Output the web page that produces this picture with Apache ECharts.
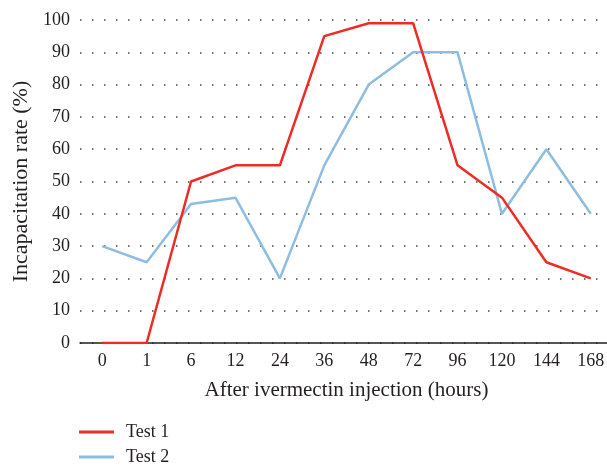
<!DOCTYPE html>
<html>
<head>
<meta charset="utf-8">
<script src="https://cdn.jsdelivr.net/npm/echarts@6/dist/echarts.min.js"></script>
<style>
  html, body { margin: 0; padding: 0; background: #fff; }
  #chart { width: 607px; height: 466px; }
</style>
</head>
<body>
<div id="chart"></div>
<script>
const hours = ['0', '1', '6', '12', '24', '36', '48', '72', '96', '120', '144', '168'];
const test1 = [0, 0, 50, 55, 55, 95, 99, 99, 55, 45, 25, 20];
const test2 = [30, 25, 43, 45, 20, 55, 80, 90, 90, 40, 60, 40];

const font = '"Liberation Serif", "DejaVu Serif", serif';
const myChart = echarts.init(document.getElementById('chart'));
const option = {
  animation: false,
  textStyle: {fontFamily: font},
  grid: {left: 80, top: 20, height: 323, width: 533, outerBoundsMode: 'none', containLabel: false},
  legend: {
    orient: 'vertical',
    left: 79,
    top: 423,
    padding: 0,
    itemWidth: 35,
    itemHeight: 3,
    itemGap: 7,
    textStyle: {fontFamily: font, fontSize: 18, lineHeight: 18, color: '#231f20', padding: [0, 0, 0, 7]},
    data: [
      {name: 'Test 1', icon: 'rect'},
      {name: 'Test 2', icon: 'rect'}
    ]
  },
  xAxis: {
    type: 'category',
    data: hours,
    name: 'After ivermectin injection (hours)',
    nameLocation: 'middle',
    nameGap: 37,
    nameTextStyle: {fontFamily: font, fontSize: 21, color: '#231f20'},
    axisLine: {lineStyle: {color: '#231f20', width: 1.5}},
    axisTick: {show: false},
    axisLabel: {fontFamily: font, fontSize: 18, color: '#231f20', margin: 9}
  },
  yAxis: {
    type: 'value',
    min: 0,
    max: 100,
    interval: 10,
    name: 'Incapacitation rate (%)',
    nameLocation: 'middle',
    nameGap: 47,
    nameTextStyle: {fontFamily: font, fontSize: 22, color: '#231f20'},
    axisLine: {show: false},
    axisTick: {show: false},
    axisLabel: {fontFamily: font, fontSize: 18, color: '#231f20', margin: 10},
    splitLine: {lineStyle: {color: '#444', width: 1.5, type: [1.5, 10.5]}}
  },
  series: [
    {
      name: 'Test 1',
      type: 'line',
      data: test1,
      symbol: 'none',
      color: '#ee2b24',
      lineStyle: {width: 2.5, color: '#ee2b24'},
      z: 3
    },
    {
      name: 'Test 2',
      type: 'line',
      data: test2,
      symbol: 'none',
      color: '#8dbde3',
      lineStyle: {width: 2.5, color: '#8dbde3'},
      z: 2
    }
  ]
};
myChart.setOption(option);
</script>
</body>
</html>
